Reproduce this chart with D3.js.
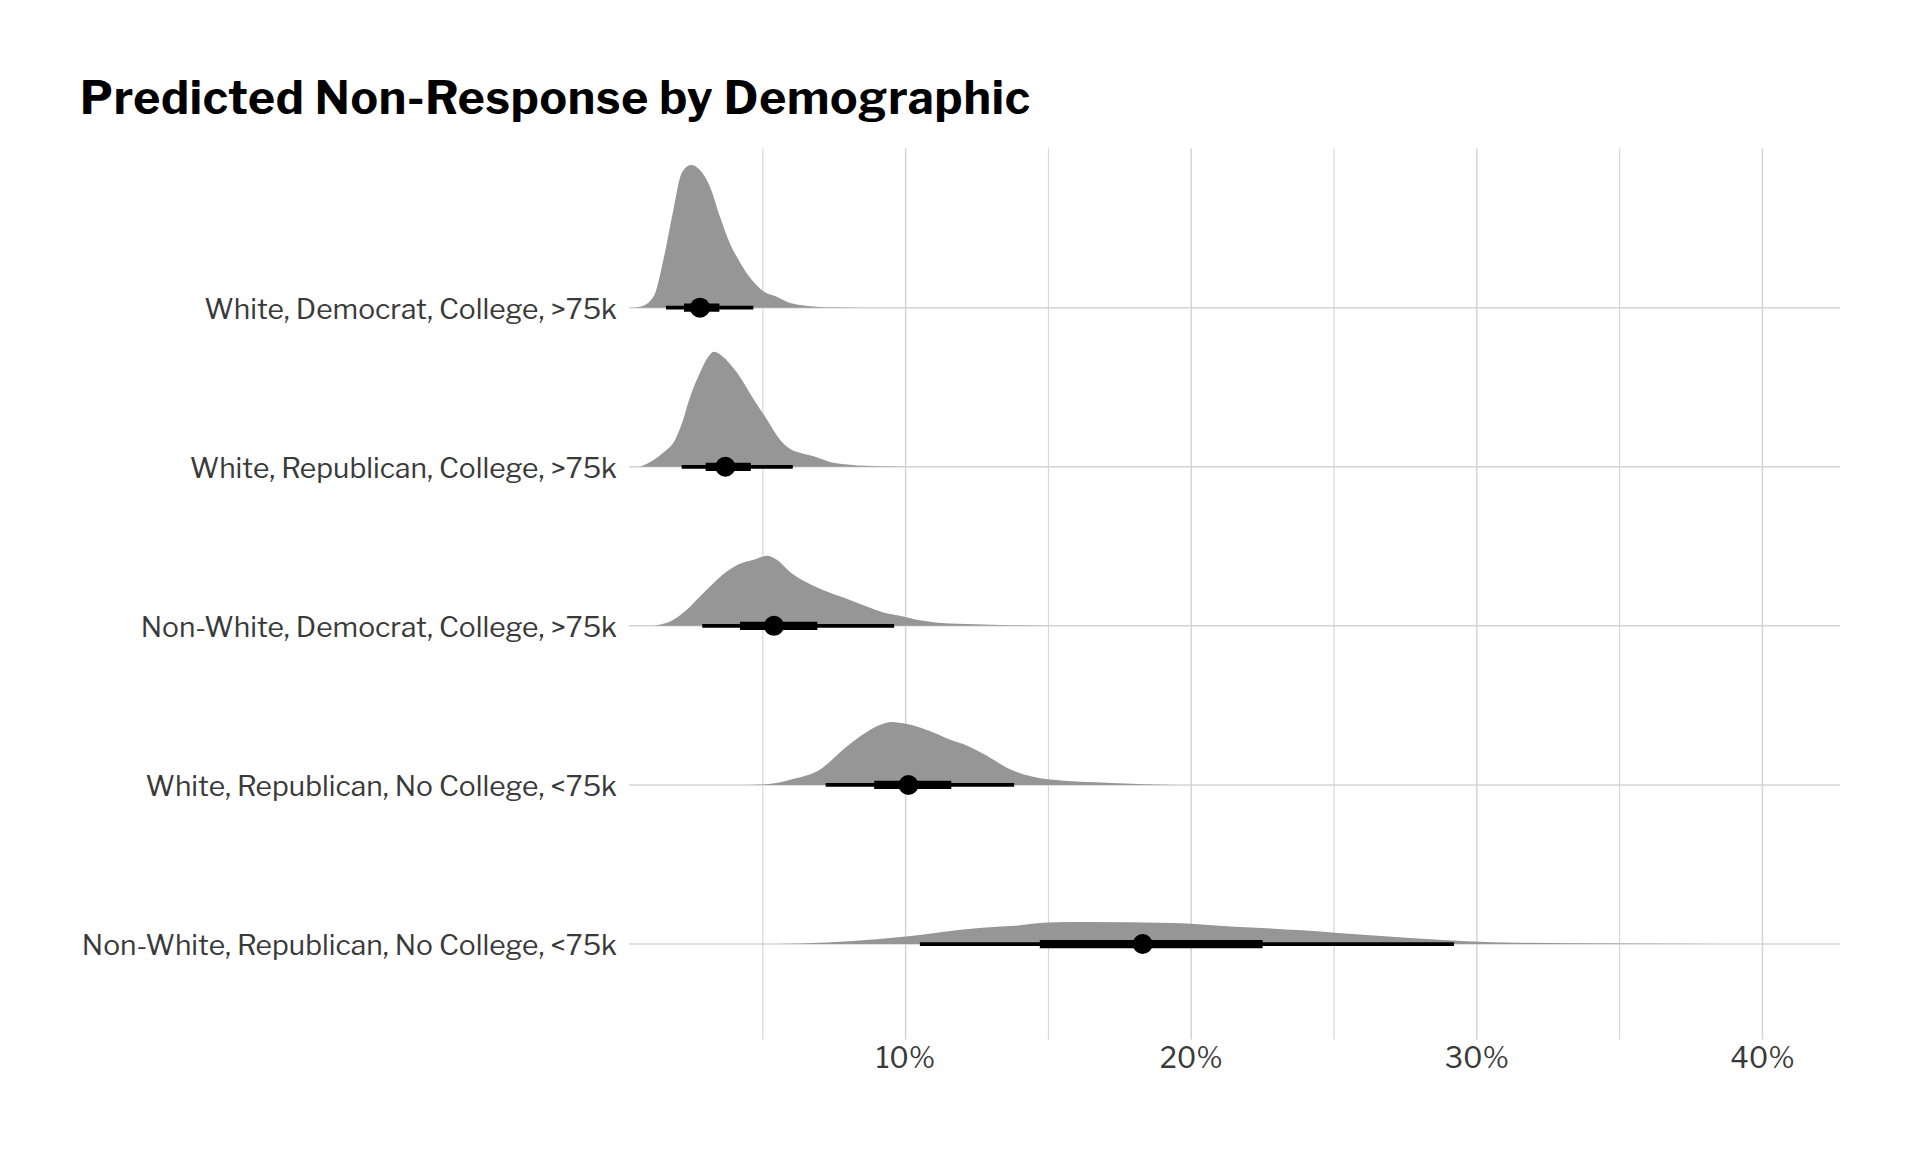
<!DOCTYPE html>
<html>
<head>
<meta charset="utf-8">
<script src="https://cdn.jsdelivr.net/npm/d3@7"></script>
<style>
  html, body { margin: 0; padding: 0; background: #ffffff; }
  svg { display: block; }
</style>
</head>
<body>
<svg id="chart" width="1920" height="1152"></svg>
<script>
// ---- data ----
const title = "Predicted Non-Response by Demographic";

// categories, top to bottom
const categories = [
  "White, Democrat, College, >75k",
  "White, Republican, College, >75k",
  "Non-White, Democrat, College, >75k",
  "White, Republican, No College, <75k",
  "Non-White, Republican, No College, <75k"
];

// posterior density curves: x in percent, height in row units
const densX1 = [0.35,0.70,1.17,1.52,1.87,2.16,2.48,2.80,3.15,3.50,3.85,4.09,4.44,4.90,5.14,5.49,5.84,6.30,7.46,8.5];
const densH1 = [0,0.006,0.069,0.302,0.616,0.846,0.897,0.865,0.760,0.572,0.404,0.320,0.216,0.121,0.090,0.069,0.038,0.017,0.002,0];

const densX2 = [0.70,1.19,1.51,1.93,2.21,2.42,2.80,3.05,3.29,3.55,4.10,4.69,5.15,5.60,5.95,6.30,6.76,7.35,8.05,9.21,10.15];
const densH2 = [0,0.044,0.088,0.170,0.295,0.421,0.591,0.680,0.723,0.700,0.591,0.421,0.295,0.170,0.113,0.088,0.067,0.030,0.013,0.003,0];

const densX3 = [1.17,1.87,2.34,2.80,3.27,3.74,4.20,4.67,5.14,5.49,5.95,6.54,7.24,8.05,8.64,9.22,9.80,10.39,10.97,12.14,13.31,15.06];
const densH3 = [0,0.038,0.101,0.184,0.268,0.341,0.390,0.415,0.440,0.415,0.339,0.272,0.216,0.163,0.121,0.084,0.063,0.038,0.023,0.011,0.006,0];

const densX4 = [4.45,5.13,6.02,6.92,8.04,9.17,9.49,10.05,10.85,11.52,12.18,12.75,13.66,14.99,17.23,19.47];
const densH4 = [0,0.004,0.036,0.088,0.256,0.381,0.396,0.383,0.339,0.287,0.245,0.193,0.099,0.036,0.013,0];

const densX5 = [5.49,6.30,10.01,12.57,13.83,14.99,16.35,19.36,21.36,23.88,25.14,27.66,29.66,31.44,35.19,38.5,41.0];
const densH5 = [0,0.003,0.048,0.101,0.115,0.135,0.138,0.132,0.111,0.086,0.069,0.038,0.017,0.008,0.003,0.001,0];

// point estimate and intervals (percent)
const medians  = [2.80, 3.69, 5.39, 10.10, 18.30];
const inner_lo = [2.24, 3.00, 4.20, 8.90, 14.70];
const inner_hi = [3.48, 4.58, 6.91, 11.60, 22.50];
const outer_lo = [1.61, 2.16, 2.88, 7.20, 10.50];
const outer_hi = [4.67, 6.05, 9.60, 13.80, 29.20];

const majorTicks = [10, 20, 30, 40];
const tickLabels = ["10%", "20%", "30%", "40%"];
const minorTicks = [5, 15, 25, 35];

// ---- drawing ----
(function () {
const densX = [densX1, densX2, densX3, densX4, densX5];
const densH = [densH1, densH2, densH3, densH4, densH5];

const svg = d3.select("#chart");
const pLeft = 629, pRight = 1840, pTop = 148.6, pBottom = 1039.5;

const x = d3.scaleLinear().domain([0.315, 42.717]).range([pLeft, pRight]);
// row index: bottom category = 1, top = 5
const y = d3.scaleLinear().domain([0.4, 6.0]).range([pBottom, pTop]);
const rowIndex = i => categories.length - i;

const gridColor = "#d4d4d4";
const textColor = "#3a3a3a";
const fontFam = "'Libre Franklin','Public Sans','Inter','Noto Sans',sans-serif";

// vertical gridlines
svg.append("g").selectAll("line").data(minorTicks).join("line")
  .attr("x1", d => x(d)).attr("x2", d => x(d))
  .attr("y1", pTop).attr("y2", pBottom)
  .attr("stroke", gridColor).attr("stroke-width", 1.1);
svg.append("g").selectAll("line").data(majorTicks).join("line")
  .attr("x1", d => x(d)).attr("x2", d => x(d))
  .attr("y1", pTop).attr("y2", pBottom)
  .attr("stroke", gridColor).attr("stroke-width", 1.5);

// horizontal gridlines
svg.append("g").selectAll("line").data(categories).join("line")
  .attr("x1", pLeft).attr("x2", pRight)
  .attr("y1", (d, i) => y(rowIndex(i))).attr("y2", (d, i) => y(rowIndex(i)))
  .attr("stroke", gridColor).attr("stroke-width", 1.5);

// densities
categories.forEach((c, i) => {
  const r = rowIndex(i);
  const pts = densX[i].map((v, k) => [x(v), y(r + densH[i][k]), y(r)]);
  const a = d3.area()
    .x(p => p[0]).y0(p => p[2]).y1(p => p[1])
    .curve(d3.curveMonotoneX);
  svg.append("path").attr("d", a(pts)).attr("fill", "#969696");
});

// intervals
categories.forEach((c, i) => {
  const yy = y(rowIndex(i));
  svg.append("line")
    .attr("x1", x(outer_lo[i])).attr("x2", x(outer_hi[i]))
    .attr("y1", yy).attr("y2", yy)
    .attr("stroke", "#000").attr("stroke-width", 3.7);
  svg.append("line")
    .attr("x1", x(inner_lo[i])).attr("x2", x(inner_hi[i]))
    .attr("y1", yy).attr("y2", yy)
    .attr("stroke", "#000").attr("stroke-width", 8.3);
  svg.append("circle")
    .attr("cx", x(medians[i])).attr("cy", yy).attr("r", 10)
    .attr("fill", "#000");
});

// y labels
svg.append("g").selectAll("text").data(categories).join("text")
  .attr("x", 617).attr("y", (d, i) => y(rowIndex(i)))
  .attr("dy", "0.40em")
  .attr("text-anchor", "end")
  .attr("font-family", fontFam).attr("font-size", 28.2)
  .attr("fill", textColor)
  .text(d => d);

// x labels
svg.append("g").selectAll("text").data(majorTicks).join("text")
  .attr("x", d => x(d)).attr("y", 1068)
  .attr("text-anchor", "middle")
  .attr("font-family", fontFam).attr("font-size", 28.5)
  .attr("fill", textColor)
  .text((d, i) => tickLabels[i]);

// title
svg.append("text")
  .attr("x", 80).attr("y", 114)
  .attr("font-family", fontFam).attr("font-size", 46).attr("font-weight", 700)
  .attr("textLength", 950).attr("lengthAdjust", "spacing")
  .attr("fill", "#000")
  .text(title);
})();
</script>
</body>
</html>
